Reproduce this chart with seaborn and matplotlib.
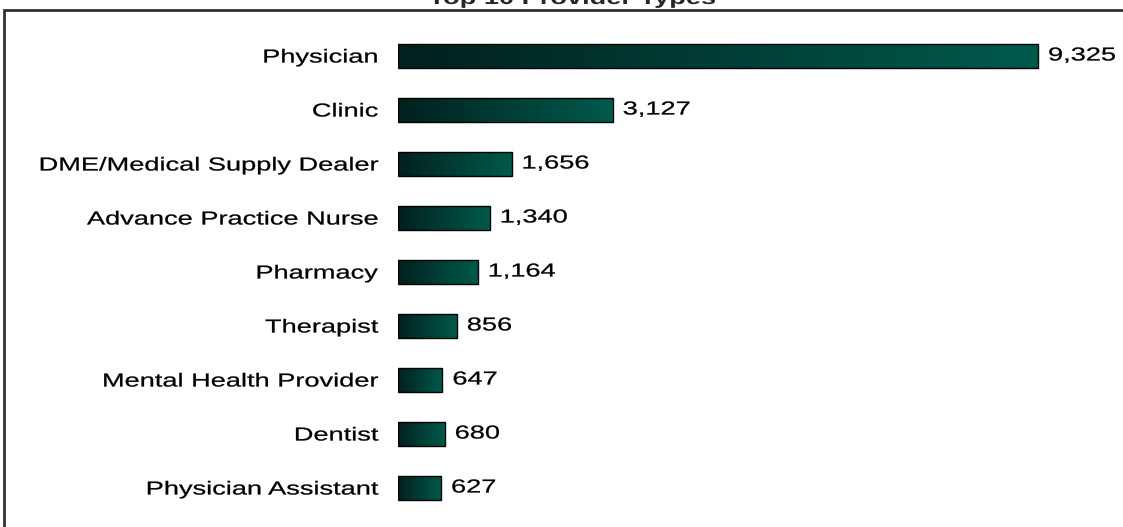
import numpy as np
import seaborn as sns
import matplotlib
matplotlib.use("Agg")
import matplotlib.pyplot as plt
from matplotlib.colors import LinearSegmentedColormap
from matplotlib.patches import Rectangle
from matplotlib.patheffects import AbstractPathEffect
from matplotlib.transforms import Affine2D

categories = ['Physician', 'Clinic', 'DME/Medical Supply Dealer', 'Advance Practice Nurse',
              'Pharmacy', 'Therapist', 'Mental Health Provider', 'Dentist', 'Physician Assistant']
counts = [9325, 3127, 1656, 1340, 1164, 856, 647, 680, 627]
title = 'Top 10 Provider Types'


# the reference text is wider than Arial, so stretch glyphs sideways
# (and give them a hairline stroke so they read as heavy as the original)
class Stretch(AbstractPathEffect):
    def __init__(self, sx=1.45, anchor=0.0, stroke=0.2):
        super().__init__()
        self.sx = sx
        self.anchor = anchor
        self.stroke = stroke

    def draw_path(self, renderer, gc, tpath, affine, rgbFace=None):
        ext = tpath.get_extents()
        x0 = ext.x0 + self.anchor * ext.width
        t = Affine2D().translate(-x0, 0).scale(self.sx, 1).translate(x0, 0) + affine
        gc0 = renderer.new_gc()
        gc0.copy_properties(gc)
        if self.stroke and rgbFace is not None:
            gc0.set_linewidth(self.stroke)
            gc0.set_foreground(rgbFace)
        renderer.draw_path(gc0, tpath, t, rgbFace)
        gc0.restore()


sns.set_style('white')
plt.rcParams['font.family'] = ['Liberation Sans', 'DejaVu Sans']
fsize = 13.5

W, H = 1123, 527
fig = plt.figure(figsize=(W / 100, H / 100), dpi=100)
ax = fig.add_axes([398 / W, 0, (W - 398) / W, (H - 10) / H])

sns.barplot(x=counts, y=categories, orient='h', ax=ax, width=0.44,
            facecolor='none', edgecolor='black', linewidth=1.0)

cmap = LinearSegmentedColormap.from_list('teal', ['#02201e', '#005a4c'])
grad = np.linspace(0, 1, 256).reshape(1, -1)
for p in ax.patches:
    x, y, w, h = p.get_x(), p.get_y(), p.get_width(), p.get_height()
    im = ax.imshow(grad, extent=[x, x + w, y + h, y], cmap=cmap, aspect='auto',
                   zorder=p.get_zorder() - 0.1, interpolation='bilinear')
    im.set_clip_path(p)

px_per_unit = 640 / 9325
ax.set_xlim(0, (W - 398) / px_per_unit)
ax.set_ylim(len(categories) - 1 + 39 / 54, -46 / 54)
ax.set_xticks([])
ax.set_xlabel('')
ax.set_ylabel('')
for s in ax.spines.values():
    s.set_visible(False)

ax.tick_params(axis='y', length=0, pad=14.4, labelsize=fsize, labelcolor='black')
for lab in ax.get_yticklabels():
    lab.set_path_effects([Stretch(1.45, 1.0)])

labels = ax.bar_label(ax.containers[0], labels=[f'{v:,}' for v in counts],
                      padding=7.5, fontsize=fsize, color='black')
for t in labels:
    t.set_path_effects([Stretch(1.45, 0.0)])

fig.add_artist(Rectangle((4 / W, -0.05), 1.0, 1 - 10 / H + 0.05, transform=fig.transFigure,
                         fill=False, linewidth=2, edgecolor='#333333'))
fig.text(572 / W, 1 - 4 / H, title, ha='center', va='baseline', fontsize=fsize,
         fontweight='bold', path_effects=[Stretch(1.45, 0.5, 0.0)])

fig.savefig('out.png', dpi=100)
